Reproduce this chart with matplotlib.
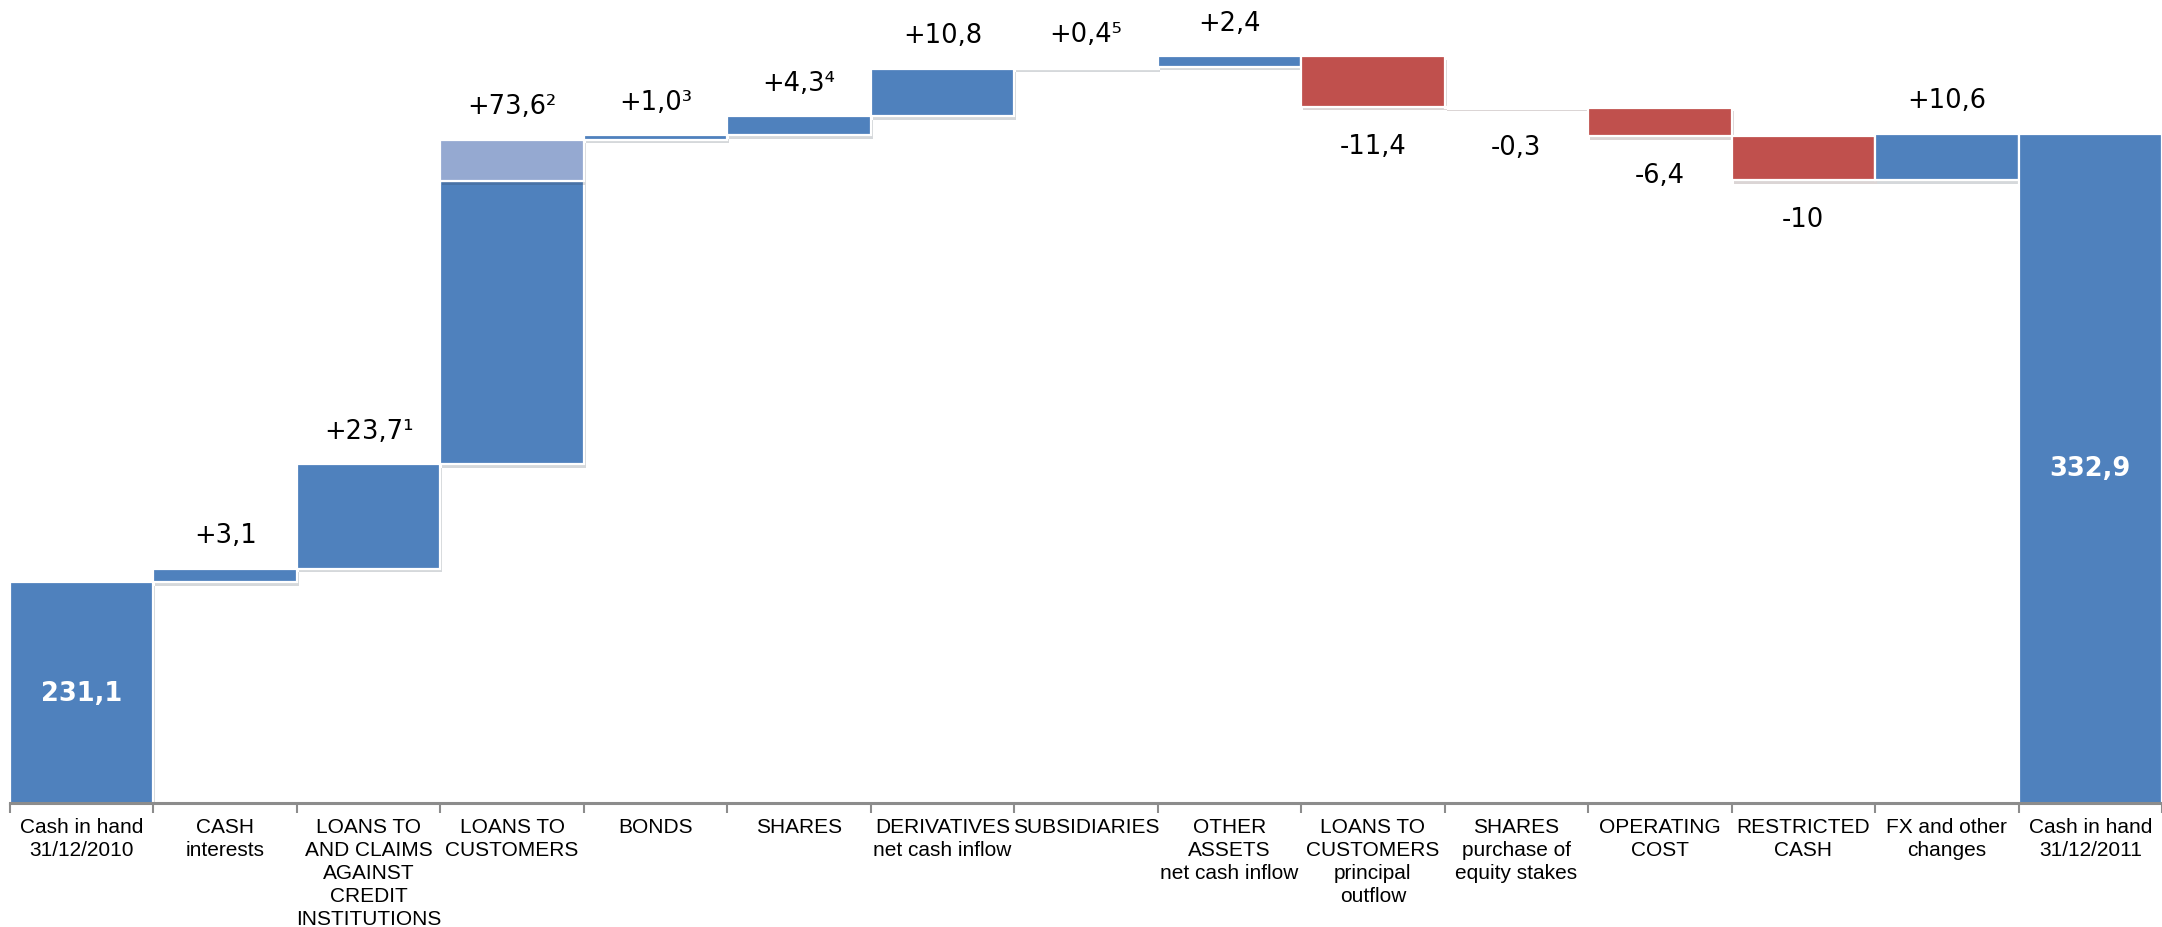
import numpy as np
import matplotlib.pyplot as plt
import matplotlib.patheffects as pe

# cash flow bridge, values in the chart's units
categories = ['Cash in hand\n31/12/2010', 'CASH\ninterests',
              'LOANS TO\nAND CLAIMS\nAGAINST\nCREDIT\nINSTITUTIONS',
              'LOANS TO\nCUSTOMERS', 'BONDS', 'SHARES',
              'DERIVATIVES\nnet cash inflow', 'SUBSIDIARIES',
              'OTHER\nASSETS\nnet cash inflow',
              'LOANS TO\nCUSTOMERS\nprincipal\noutflow',
              'SHARES\npurchase of\nequity stakes', 'OPERATING\nCOST',
              'RESTRICTED\nCASH', 'FX and other\nchanges',
              'Cash in hand\n31/12/2011']
opening = 231.1
closing = 332.9
changes = [3.1, 23.7, 73.6, 1.0, 4.3, 10.8, 0.4, 2.4, -11.4, -0.3, -6.4, -10.0, 10.6]
notes = ['', '\u00b9', '\u00b2', '\u00b3', '\u2074', '', '\u2075', '', '', '', '', '', '']
decimals = [1, 1, 1, 1, 1, 1, 1, 1, 1, 1, 1, 0, 1]
customers_light = 9.4   # lighter top slice of the LOANS TO CUSTOMERS step

BLUE = '#4f81bd'
LIGHT = '#95a9d1'
RED = '#c0504d'
AXIS = '#8c8c8c'

def fmt(v, d):
    s = f'{abs(v):.{d}f}'.replace('.', ',')
    return ('+' if v > 0 else '-') + s

shadow = [pe.SimplePatchShadow(offset=(1.5, -2.5), alpha=0.18), pe.Normal()]
bar_kw = dict(width=1.0, edgecolor='white', linewidth=1.6, path_effects=shadow)

fig = plt.figure(figsize=(21.62, 9.28), dpi=100)
ax = fig.add_axes([0.0046, 0.1336, 0.9954, 0.8664])

y_low, y_high = 181.1, 363.4
n = len(categories)

# opening total
ax.bar(0, opening, color=BLUE, **bar_kw)
ax.text(0, (y_low + opening) / 2, fmt(opening, 1)[1:], color='white', ha='center',
        va='center', fontsize=18.5, fontweight='bold')

level = opening
for i, (v, note, d) in enumerate(zip(changes, notes, decimals), start=1):
    bottom = level if v > 0 else level + v
    if i == 3:
        ax.bar(i, abs(v) - customers_light, bottom=bottom, color=BLUE, **bar_kw)
        ax.bar(i, customers_light, bottom=bottom + abs(v) - customers_light,
               color=LIGHT, **bar_kw)
    else:
        ax.bar(i, abs(v), bottom=bottom, color=BLUE if v > 0 else RED, **bar_kw)
    level += v
    if v > 0:
        ax.annotate(fmt(v, d) + note, (i, bottom + abs(v)), xytext=(0, 24),
                    textcoords='offset points', ha='center', va='center', fontsize=18.5)
    else:
        ax.annotate(fmt(v, d) + note, (i, bottom), xytext=(0, -28),
                    textcoords='offset points', ha='center', va='center', fontsize=18.5)

# closing total
ax.bar(n - 1, closing, color=BLUE, **bar_kw)
ax.text(n - 1, (y_low + closing) / 2, fmt(closing, 1)[1:], color='white', ha='center',
        va='center', fontsize=18.5, fontweight='bold')

ax.set_xlim(-0.5, n - 0.5)
ax.set_ylim(y_low, y_high)

for s in ['top', 'left', 'right']:
    ax.spines[s].set_visible(False)
ax.spines['bottom'].set_color(AXIS)
ax.spines['bottom'].set_linewidth(2.2)
ax.set_yticks([])

ax.set_xticks(np.arange(n))
ax.set_xticklabels(categories, fontfamily='Liberation Sans', fontsize=15, linespacing=1.26)
ax.tick_params(axis='x', which='major', length=0, pad=10)
ax.set_xticks(np.arange(n + 1) - 0.5, minor=True)
ax.tick_params(axis='x', which='minor', length=7, width=1.5, color=AXIS, direction='out')

fig.savefig('out.png', dpi=100)
